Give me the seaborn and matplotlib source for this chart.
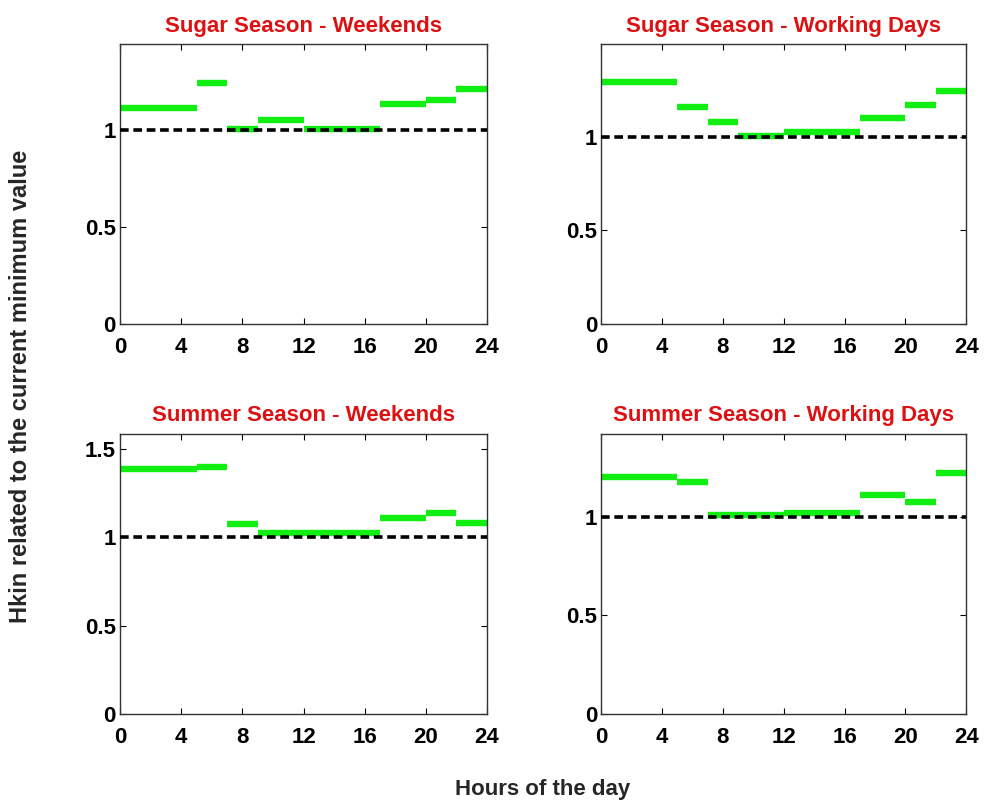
import numpy as np
import pandas as pd
import seaborn as sns
import matplotlib
matplotlib.use("Agg")
import matplotlib.pyplot as plt

# hour breaks of the tariff periods (common to all panels)
hour_edges = [0, 5, 7, 9, 12, 17, 20, 22, 24]

# Hkin relative to the current minimum, one value per period
sugar_weekends = [1.115, 1.242, 1.005, 1.053, 1.005, 1.134, 1.156, 1.213]
sugar_working = [1.292, 1.162, 1.078, 1.005, 1.027, 1.102, 1.171, 1.244]
summer_weekends = [1.389, 1.398, 1.074, 1.023, 1.023, 1.110, 1.137, 1.080]
summer_working = [1.201, 1.176, 1.010, 1.010, 1.019, 1.112, 1.075, 1.223]

titles = ["Sugar Season - Weekends", "Sugar Season - Working Days",
          "Summer Season - Weekends", "Summer Season - Working Days"]
series = [sugar_weekends, sugar_working, summer_weekends, summer_working]
ymax = [1.443, 1.497, 1.585, 1.42]
yticks = [[0, 0.5, 1], [0, 0.5, 1], [0, 0.5, 1, 1.5], [0, 0.5, 1]]
ytick_labels = [["0", "0.5", "1"], ["0", "0.5", "1"],
                ["0", "0.5", "1", "1.5"], ["0", "0.5", "1"]]
xticks = [0, 4, 8, 12, 16, 20, 24]
reference_level = 1.0

sns.set_style("ticks")
plt.rcParams["font.family"] = ["Liberation Sans", "DejaVu Sans"]

fig = plt.figure(figsize=(9.84, 8.05), dpi=100)

# axes boxes [left, bottom, width, height] in figure fraction
boxes = [
    [0.122, 0.5975, 0.373, 0.3478],
    [0.611, 0.5975, 0.371, 0.3478],
    [0.122, 0.113, 0.373, 0.348],
    [0.611, 0.113, 0.371, 0.348],
]

for i in range(4):
    ax = fig.add_axes(boxes[i])
    rows = []
    for k, v in enumerate(series[i]):
        rows.append({"hour": hour_edges[k], "value": v, "seg": k})
        rows.append({"hour": hour_edges[k + 1], "value": v, "seg": k})
    df = pd.DataFrame(rows)
    ref = pd.DataFrame({"hour": [hour_edges[0], hour_edges[-1]],
                        "value": [reference_level, reference_level]})

    sns.lineplot(data=ref, x="hour", y="value", ax=ax, color="black",
                 linewidth=2.6, dashes=False, zorder=3)
    ax.lines[-1].set_dashes((2.4, 1.3))
    sns.lineplot(data=df, x="hour", y="value", units="seg", estimator=None,
                 ax=ax, color="#11ee11", linewidth=4.6, zorder=2,
                 solid_capstyle="butt")

    ax.set_xlim(0, 24)
    ax.set_ylim(0, ymax[i])
    ax.set_xticks(xticks)
    ax.set_xticklabels([str(t) for t in xticks], fontsize=16, fontweight="bold")
    ax.set_yticks(yticks[i])
    ax.set_yticklabels(ytick_labels[i], fontsize=16, fontweight="bold")
    ax.tick_params(direction="in", length=4, width=0.8, top=True, right=True,
                   pad=3, colors="black")
    ax.tick_params(axis="x", pad=9)
    for s in ax.spines.values():
        s.set_visible(True)
        s.set_linewidth(1.0)
        s.set_color("#333333")
    ax.set_xlabel("")
    ax.set_ylabel("")
    ax.set_title(titles[i], color="#dd1111", fontsize=16, fontweight="bold", pad=9)

fig.text(0.021, 0.52, "Hkin related to the current minimum value", rotation=90,
         ha="center", va="center", fontsize=17, fontweight="bold")
fig.text(0.551, 0.019, "Hours of the day", ha="center", va="center",
         fontsize=16, fontweight="bold")

fig.savefig("out.png", dpi=100, facecolor="white")
